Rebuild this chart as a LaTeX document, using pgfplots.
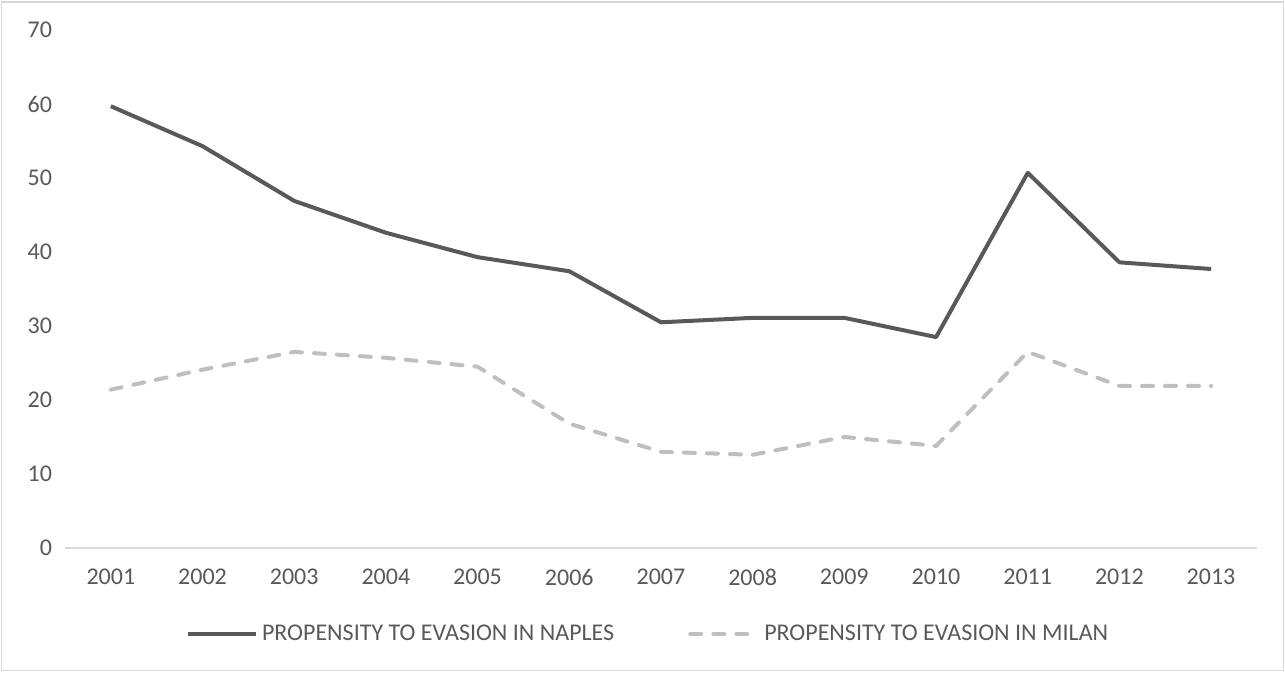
\documentclass[border=0pt]{standalone}
\usepackage{fontspec}
\setmainfont{Carlito}
\usepackage{pgfplots}
\pgfplotsset{compat=1.18}
\definecolor{dark}{HTML}{595959}
\definecolor{light}{HTML}{BFBFBF}
\definecolor{frame}{HTML}{D9D9D9}
\begin{document}
\begin{tikzpicture}
\path[use as bounding box] (-32.5pt,-62.5pt) rectangle (610pt,274pt);
\draw[frame, line width=0.6pt] (-31.6pt,-61.4pt) rectangle (609.2pt,273pt);
\begin{axis}[
    at={(0,0)}, anchor=south west,
    scale only axis,
    width=596pt, height=259pt,
    xmin=2000.5, xmax=2013.5,
    ymin=0, ymax=70,
    xtick={2001,...,2013},
    ytick={0,10,...,70},
    /pgf/number format/1000 sep={},
    /pgf/number format/assume math mode=true,
    axis x line*=bottom, axis y line*=left,
    x axis line style={frame, line width=0.7pt, -},
    y axis line style={draw=none},
    tick style={draw=none},
    ticklabel style={font=\fontsize{12}{14}\selectfont, text=dark},
    xticklabel style={yshift=-7pt},
    yticklabel style={xshift=-3pt},
    clip=false,
    legend columns=2,
    legend style={draw=none, fill=none, at={(axis description cs:0.49,0)}, anchor=center,
        yshift=-43pt, font=\fontsize{12}{14}\selectfont, text=dark,
        /tikz/every even column/.append style={column sep=35pt}},
    legend image code/.code={\draw[#1] (0pt,0pt) -- (34pt,0pt);},
]
\addplot[dark, line width=2pt, line join=round] coordinates {
(2001,59.7)(2002,54.3)(2003,46.9)(2004,42.6)(2005,39.3)(2006,37.4)(2007,30.5)
(2008,31.1)(2009,31.1)(2010,28.5)(2011,50.7)(2012,38.6)(2013,37.7)};
\addlegendentry{PROPENSITY TO EVASION IN NAPLES}
\addplot[light, line width=2pt, line cap=round, dash pattern=on 5.5pt off 6pt] coordinates {
(2001,21.4)(2002,24.1)(2003,26.5)(2004,25.7)(2005,24.5)(2006,16.8)(2007,13.0)
(2008,12.6)(2009,15.0)(2010,13.8)(2011,26.5)(2012,21.9)(2013,21.9)};
\addlegendentry{PROPENSITY TO EVASION IN MILAN}
\end{axis}
\end{tikzpicture}
\end{document}
